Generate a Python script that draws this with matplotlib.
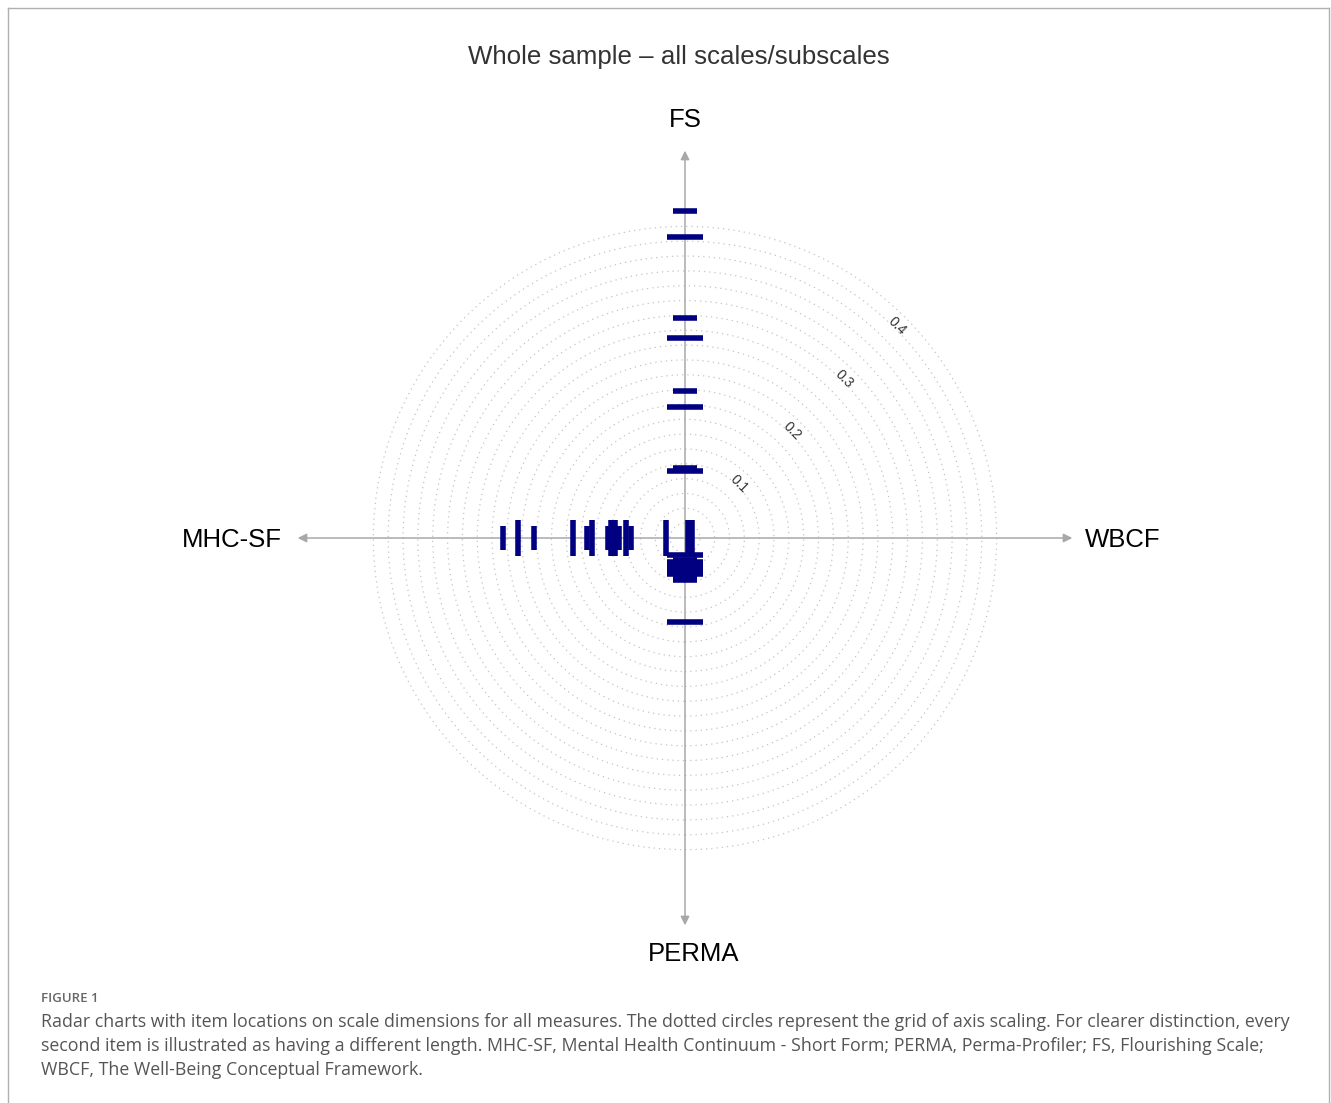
import numpy as np
import matplotlib.pyplot as plt
from matplotlib.patches import Circle
from matplotlib.lines import Line2D

# item locations (distance from centre), in item order
# every second item is drawn longer
fs_items = [0.441, 0.405, 0.296, 0.269, 0.198, 0.176, 0.094, 0.090]
mhc_items = [0.245, 0.225, 0.204, 0.151, 0.132, 0.125, 0.104,
             0.100, 0.089, 0.094, 0.073, 0.080, 0.097, 0.026]
perma_items = [0.053, 0.023, 0.057, 0.032, 0.029, 0.038,
               0.035, 0.043, 0.045, 0.049, 0.040, 0.113]
wbcf_items = [0.006, 0.004, 0.008, 0.010]

axis_names = ['FS', 'WBCF', 'PERMA', 'MHC-SF']
grid_radii = np.arange(0.02, 0.4201, 0.02)
tick_vals = [0.1, 0.2, 0.3, 0.4]

W, H = 1331, 1103
fig = plt.figure(figsize=(W / 100, H / 100), dpi=100)
plt.rcParams['font.family'] = ['Liberation Sans', 'DejaVu Sans']

# axes: centre at pixel (685, 538), 742 px per unit
ax = fig.add_axes([185 / W, 65 / H, 1000 / W, 1000 / H])
lim = 500 / 742
ax.set_xlim(-lim, lim)
ax.set_ylim(-lim, lim)
ax.set_aspect('equal')
ax.axis('off')

# dotted grid circles
for r in grid_radii:
    ax.add_patch(Circle((0, 0), r, fill=False, ec='#c4c4c4', lw=0.9,
                        ls=(0, (1, 3.2)), zorder=1))

# axis lines with arrows
tip = 0.522
for dx, dy in [(0, 1), (1, 0), (0, -1), (-1, 0)]:
    ax.annotate('', xy=(dx * tip, dy * tip), xytext=(0, 0), zorder=2,
                arrowprops=dict(arrowstyle='-|>', color='#a8a8a8', lw=1.1,
                                mutation_scale=13, shrinkA=0, shrinkB=0))

# scale labels along the diagonal
for t in tick_vals:
    rr = t + 0.004
    ax.text(rr * np.cos(np.pi / 4), rr * np.sin(np.pi / 4), str(t),
            rotation=-45, ha='center', va='center', fontsize=10, color='#333333')

long_h, short_h = 0.0249, 0.0162
lw = 4.0
col = '#000080'

def half(i):
    return short_h if i % 2 == 0 else long_h

for i, v in enumerate(fs_items):
    h = half(i)
    ax.plot([-h, h], [v, v], color=col, lw=lw, solid_capstyle='butt', zorder=5)
for i, v in enumerate(perma_items):
    h = half(i)
    ax.plot([-h, h], [-v, -v], color=col, lw=lw, solid_capstyle='butt', zorder=5)
for i, v in enumerate(mhc_items):
    h = half(i)
    ax.plot([-v, -v], [-h, h], color=col, lw=lw, solid_capstyle='butt', zorder=5)
for i, v in enumerate(wbcf_items):
    h = half(i)
    ax.plot([v, v], [-h, h], color=col, lw=lw, solid_capstyle='butt', zorder=5)

# axis names
ax.text(0, 0.564, axis_names[0], ha='center', va='center', fontsize=18.5)
ax.text(0.539, -0.003, axis_names[1], ha='left', va='center', fontsize=18.5)
ax.text(0.011, -0.560, axis_names[2], ha='center', va='center', fontsize=18.5)
ax.text(-0.543, -0.003, axis_names[3], ha='right', va='center', fontsize=18.5)

fig.text(679 / W, 1 - 57 / H, 'Whole sample \u2013 all scales/subscales',
         ha='center', va='center', fontsize=18.6, color='#333333')

# caption
cap_font = ['Open Sans', 'DejaVu Sans']
fig.text(41 / W, 1 - 998 / H, 'FIGURE 1', ha='left', va='center',
         fontsize=9.5, color='#666666', family=cap_font, weight='semibold')
lines = [
    'Radar charts with item locations on scale dimensions for all measures. The dotted circles represent the grid of axis scaling. For clearer distinction, every',
    'second item is illustrated as having a different length. MHC-SF, Mental Health Continuum - Short Form; PERMA, Perma-Profiler; FS, Flourishing Scale;',
    'WBCF, The Well-Being Conceptual Framework.',
]
for k, s in enumerate(lines):
    fig.text(41 / W, 1 - (1022 + 24 * k) / H, s, ha='left', va='center',
             fontsize=12.75, color='#555555', family=cap_font)

# frame around figure
bc = '#b0b0b0'
fig.add_artist(Line2D([8 / W, 8 / W], [0, 1 - 8 / H], color=bc, lw=1))
fig.add_artist(Line2D([8 / W, 1329 / W], [1 - 8 / H, 1 - 8 / H], color=bc, lw=1))
fig.add_artist(Line2D([1329 / W, 1329 / W], [0, 1 - 8 / H], color=bc, lw=1))

fig.savefig('out.png', dpi=100)
